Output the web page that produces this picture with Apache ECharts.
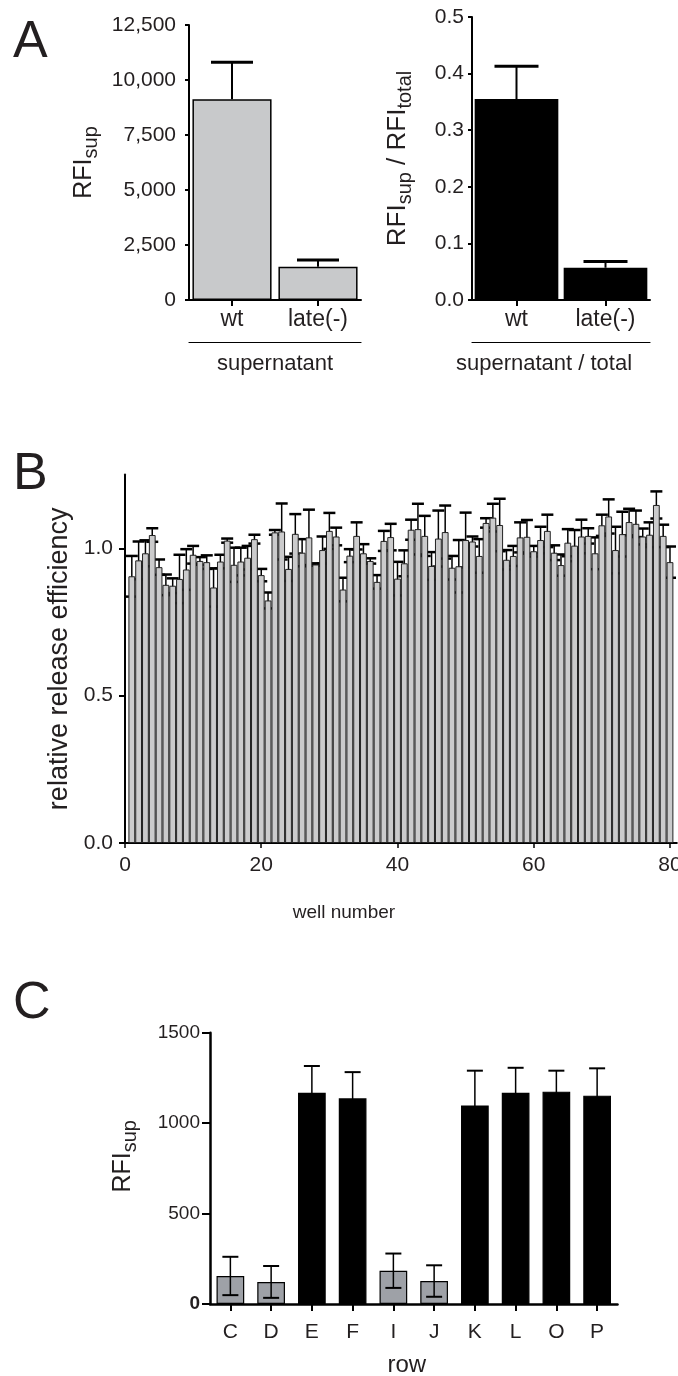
<!DOCTYPE html>
<html>
<head>
<meta charset="utf-8">
<title>release efficiency</title>
<script src="https://cdn.jsdelivr.net/npm/echarts@6.0.0/dist/echarts.min.js"></script>
<style>
    html, body { margin: 0; padding: 0; background: #fff; }
    #chart { width: 678px; height: 1376px; }
</style>
</head>
<body>
<div id="chart"></div>
<script>
// panel A
const aCategories = ["wt", "late(-)"];
const aSupMean = [9120, 1515];
const aSupErr = [1685, 300];
const aRatioMean = [0.355, 0.057];
const aRatioErr = [0.058, 0.011];

// panel B: wells 1..80
const bWells = [];
for (let i = 1; i <= 80; i++) bWells.push(i);
const bMean = [
    0.905, 0.959, 0.983, 1.045, 0.936, 0.876, 0.873, 0.896, 0.928, 0.978,
    0.957, 0.953, 0.867, 0.955, 1.026, 0.944, 0.955, 0.968, 1.031, 0.909,
    0.823, 1.054, 1.057, 0.930, 1.049, 0.985, 1.037, 0.945, 0.994, 1.059,
    1.040, 0.860, 0.975, 1.042, 0.983, 0.957, 0.886, 1.025, 1.038, 0.897,
    0.949, 1.063, 1.065, 1.042, 0.940, 1.033, 1.055, 0.934, 0.939, 1.028,
    1.023, 0.974, 1.086, 1.104, 1.079, 0.961, 0.974, 1.037, 1.039, 0.990,
    1.028, 1.059, 0.985, 0.943, 1.019, 1.009, 1.040, 1.042, 0.983, 1.078,
    1.108, 0.994, 1.048, 1.089, 1.083, 1.040, 1.046, 1.147, 1.042, 0.953
];
const bErr = [
    0.069, 0.064, 0.044, 0.023, 0.026, 0.035, 0.025, 0.082, 0.069, 0.030,
    0.013, 0.023, 0.065, 0.023, 0.007, 0.058, 0.047, 0.040, 0.015, 0.021,
    0.027, 0.008, 0.095, 0.041, 0.067, 0.046, 0.094, 0.004, 0.046, 0.061,
    0.030, 0.040, 0.022, 0.046, 0.031, 0.009, 0.023, 0.034, 0.045, 0.057,
    0.044, 0.034, 0.086, 0.068, 0.047, 0.095, 0.090, 0.040, 0.089, 0.093,
    0.017, 0.057, 0.016, 0.047, 0.089, 0.033, 0.034, 0.051, 0.057, 0.018,
    0.045, 0.055, 0.025, 0.036, 0.046, 0.053, 0.057, 0.026, 0.054, 0.036,
    0.058, 0.079, 0.076, 0.045, 0.045, 0.027, 0.042, 0.046, 0.038, 0.053
];
const bTicks = [0, 20, 40, 60, 80];

// panel C
const cRows = ["C", "D", "E", "F", "I", "J", "K", "L", "O", "P"];
const cMean = [155, 122, 1168, 1137, 184, 127, 1098, 1168, 1174, 1152];
const cErr = [106, 88, 148, 145, 95, 87, 192, 138, 116, 151];

const FONT = "Liberation Sans, Arial, Helvetica, sans-serif";
const INK = "#231f20";

const withComma = v => String(v).replace(/\B(?=(\d{3})+(?!\d))/g, ",");

// error bar drawn through the axes of the series
const errorBar = (capHalf, lineWidth, capWidth, both) => (params, api) => {
    const x = api.value(0);
    const mean = api.value(1);
    const err = api.value(2);
    const top = api.coord([x, mean + err]);
    const bottom = api.coord([x, both ? mean - err : mean]);
    const children = [
        {
            type: "line",
            shape: { x1: top[0], y1: top[1], x2: bottom[0], y2: bottom[1] },
            style: { stroke: "#000", lineWidth: lineWidth }
        },
        {
            type: "line",
            shape: { x1: top[0] - capHalf, y1: top[1], x2: top[0] + capHalf, y2: top[1] },
            style: { stroke: "#000", lineWidth: capWidth }
        }
    ];
    if (both) {
        children.push({
            type: "line",
            shape: { x1: bottom[0] - capHalf, y1: bottom[1], x2: bottom[0] + capHalf, y2: bottom[1] },
            style: { stroke: "#000", lineWidth: capWidth }
        });
    }
    return { type: "group", children: children };
};

const axisLineStyle = w => ({ show: true, onZero: false, lineStyle: { color: "#000", width: w } });

// RFI with a subscript, for the rotated axis names
const subRich = (size, subSize) => ({
    n: { fontSize: size, color: INK, fontFamily: FONT, verticalAlign: "top", lineHeight: size },
    s: { fontSize: subSize, color: INK, fontFamily: FONT, lineHeight: size + 14 }
});

const letter = (text, top) => ({
    text: text, left: 13, top: top, padding: 0,
    textStyle: { fontSize: 52, fontWeight: "normal", color: INK, fontFamily: FONT }
});

const getOption = () => {
    return {
        animation: false,
        backgroundColor: "#fff",
        textStyle: { fontFamily: FONT, color: INK },
        title: [letter("A", 17), letter("B", 449), letter("C", 978)],
        visualMap: {
            show: false,
            seriesIndex: 6,
            dimension: 1,
            pieces: [
                { lt: 500, color: "#9ea1a7" },
                { gte: 500, color: "#000" }
            ]
        },
        grid: [
            { left: 189, top: 25, width: 172, height: 275, outerBoundsMode: "none" },
            { left: 472, top: 17, width: 178, height: 283, outerBoundsMode: "none" },
            { left: 125, top: 474.6, width: 551.8, height: 368.4, outerBoundsMode: "none" },
            { left: 210, top: 1032.7, width: 407.5, height: 271.3, outerBoundsMode: "none" }
        ],
        xAxis: [
            {
                type: "category", gridIndex: 0, data: aCategories,
                axisLine: axisLineStyle(2),
                axisTick: { show: true, alignWithLabel: true, length: 6, lineStyle: { color: "#000", width: 2 } },
                axisLabel: { fontSize: 23, color: INK, margin: 8 }
            },
            {
                type: "value", gridIndex: 0, min: 0, max: 1, position: "bottom", offset: 42,
                axisLine: axisLineStyle(1.2), axisTick: { show: false }, axisLabel: { show: false },
                splitLine: { show: false },
                name: "supernatant", nameLocation: "middle", nameGap: 11, nameMoveOverlap: false,
                nameTextStyle: { fontSize: 22, color: INK, verticalAlign: "top" }
            },
            {
                type: "category", gridIndex: 1, data: aCategories,
                axisLine: axisLineStyle(2),
                axisTick: { show: true, alignWithLabel: true, length: 6, lineStyle: { color: "#000", width: 2 } },
                axisLabel: { fontSize: 23, color: INK, margin: 8 }
            },
            {
                type: "value", gridIndex: 1, min: 0, max: 1, position: "bottom", offset: 42,
                axisLine: axisLineStyle(1.2), axisTick: { show: false }, axisLabel: { show: false },
                splitLine: { show: false },
                name: "supernatant / total", nameLocation: "middle", nameGap: 11, nameMoveOverlap: false,
                nameTextStyle: { fontSize: 22, color: INK, verticalAlign: "top", padding: [0, 34, 0, 0] }
            },
            {
                type: "value", gridIndex: 2, min: 0, max: 81, interval: 20,
                axisLine: axisLineStyle(2),
                axisTick: { show: true, length: 5, lineStyle: { color: "#000", width: 1.5 } },
                axisLabel: {
                    fontSize: 21, color: INK, margin: 12, showMaxLabel: false,
                    formatter: v => (bTicks.indexOf(v) >= 0 ? String(v) : "")
                },
                splitLine: { show: false },
                name: "well number", nameLocation: "middle", nameGap: 60, nameMoveOverlap: false,
                nameTextStyle: { fontSize: 19, color: INK, padding: [0, 114, 0, 0] }
            },
            {
                type: "category", gridIndex: 3, data: cRows,
                axisLine: axisLineStyle(2.5),
                axisTick: { show: true, alignWithLabel: true, length: 7, lineStyle: { color: "#000", width: 2 } },
                axisLabel: { fontSize: 21, color: INK, margin: 18 },
                name: "row", nameLocation: "middle", nameGap: 49, nameMoveOverlap: false,
                nameTextStyle: { fontSize: 24, color: INK, padding: [0, 14, 0, 0] }
            }
        ],
        yAxis: [
            {
                type: "value", gridIndex: 0, min: 0, max: 12500, interval: 2500,
                axisLine: axisLineStyle(2),
                axisTick: { show: true, length: 4, lineStyle: { color: "#000", width: 2 } },
                axisLabel: { fontSize: 21, color: INK, margin: 13, formatter: v => withComma(v) },
                splitLine: { show: false },
                name: "{n|RFI}{s|sup}", nameLocation: "middle", nameRotate: 90, nameGap: 78,
                nameMoveOverlap: false,
                nameTextStyle: { rich: subRich(25, 20) }
            },
            {
                type: "value", gridIndex: 1, min: 0, max: 0.5, interval: 0.1,
                axisLine: axisLineStyle(2),
                axisTick: { show: true, length: 4, lineStyle: { color: "#000", width: 2 } },
                axisLabel: { fontSize: 21, color: INK, margin: 8, formatter: v => v.toFixed(1) },
                splitLine: { show: false },
                name: "{n|RFI}{s|sup}{n| / RFI}{s|total}", nameLocation: "middle", nameRotate: 90, nameGap: 47,
                nameMoveOverlap: false,
                nameTextStyle: { rich: subRich(26, 20) }
            },
            {
                type: "value", gridIndex: 2, min: 0, max: 1.25, interval: 0.5,
                axisLine: axisLineStyle(2),
                axisTick: { show: true, length: 6, lineStyle: { color: "#000", width: 2 } },
                axisLabel: { fontSize: 21, color: INK, margin: 12, showMaxLabel: false, formatter: v => v.toFixed(1) },
                splitLine: { show: false },
                name: "relative release efficiency", nameLocation: "middle", nameRotate: 90, nameGap: 52,
                nameMoveOverlap: false,
                nameTextStyle: { fontSize: 27, color: INK }
            },
            {
                type: "value", gridIndex: 3, min: 0, max: 1500, interval: 500,
                axisLine: axisLineStyle(2.5),
                axisTick: { show: true, length: 8, lineStyle: { color: "#000", width: 2 } },
                axisLabel: {
                    fontSize: 19, color: INK, margin: 10,
                    formatter: v => (v === 0 ? "{z|0}" : String(v)),
                    rich: { z: { fontSize: 19, fontWeight: "bold", color: INK } }
                },
                splitLine: { show: false },
                name: "{n|RFI}{s|sup}", nameLocation: "middle", nameRotate: 90, nameGap: 60,
                nameMoveOverlap: false,
                nameTextStyle: { rich: subRich(25, 20), padding: [0, 0, 0, 24] }
            }
        ],
        series: [
            {
                type: "bar", xAxisIndex: 0, yAxisIndex: 0, data: aSupMean,
                barCategoryGap: "8%",
                itemStyle: { color: "#c8c9cb", borderColor: "#000", borderWidth: 1.5 }
            },
            {
                type: "custom", xAxisIndex: 0, yAxisIndex: 0, z: 3,
                renderItem: errorBar(21, 2, 3, false),
                encode: { x: 0, y: 1 },
                data: aCategories.map((c, i) => [i, aSupMean[i], aSupErr[i]])
            },
            {
                type: "bar", xAxisIndex: 2, yAxisIndex: 1, data: aRatioMean,
                barCategoryGap: "6%",
                itemStyle: { color: "#000" }
            },
            {
                type: "custom", xAxisIndex: 2, yAxisIndex: 1, z: 3,
                renderItem: errorBar(22, 2, 3, false),
                encode: { x: 0, y: 1 },
                data: aCategories.map((c, i) => [i, aRatioMean[i], aRatioErr[i]])
            },
            {
                type: "bar", xAxisIndex: 4, yAxisIndex: 2, z: 3,
                barWidth: 6.8,
                data: bWells.map((w, i) => [w, bMean[i]]),
                itemStyle: { color: "#cbcbcc", borderColor: "#222", borderWidth: 1 }
            },
            {
                type: "custom", xAxisIndex: 4, yAxisIndex: 2, z: 2,
                renderItem: errorBar(6, 1.5, 2.5, true),
                encode: { x: 0, y: 1 },
                data: bWells.map((w, i) => [w, bMean[i], bErr[i]])
            },
            {
                type: "bar", xAxisIndex: 5, yAxisIndex: 3, data: cMean,
                barCategoryGap: "32%",
                itemStyle: { borderColor: "#000", borderWidth: 1.2 }
            },
            {
                type: "custom", xAxisIndex: 5, yAxisIndex: 3, z: 3,
                renderItem: errorBar(8, 1.5, 2, true),
                encode: { x: 0, y: 1 },
                data: cRows.map((r, i) => [i, cMean[i], cErr[i]])
            }
        ]
    };
};

const chart = echarts.init(document.getElementById("chart"), null, { renderer: "canvas" });
chart.setOption(getOption());
</script>
</body>
</html>
